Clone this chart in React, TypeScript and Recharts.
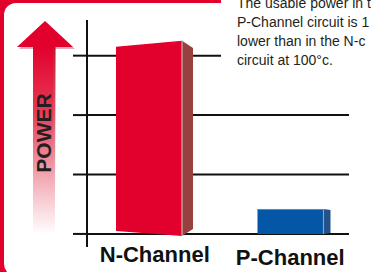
import { Bar, BarChart, CartesianGrid, XAxis, YAxis } from 'recharts'

const CATEGORIES = ['N-Channel', 'P-Channel']
const POWER = [3.2, 0.42]
const POWER_TICKS = [0, 1, 2, 3]
const NOTE_LINES = ['The usable power in t', 'P-Channel circuit is 1', 'lower than in the N-c', 'circuit at 100°c.']

const data = CATEGORIES.map((name, i) => ({ name, power: POWER[i] }))

const RED = '#e2002d'
const FONT = '"Liberation Sans", Arial, sans-serif'

// front / side colours and perspective tweaks for each box
const FRONT = ['#e2002d', '#0456a6']
const SIDE = ['#98403f', '#23528a']
const EDGE = ['#c9b3b3', '#8aa0bf']
const DEPTH = [11, 7]
const SKEW = [3, 0]

/** Bar drawn as a slightly skewed 3D box. */
function Box(props: any) {
  const { x, y, width, height, index } = props
  if (height == null || height <= 0) return null
  const d = DEPTH[index]
  const fw = width - 11
  const s = SKEW[index]
  const base = y + height
  const tl = y + s
  const tr = y - s
  const bl = base - s
  const br = base + s * 0.7
  const slant = index === 0 ? 0.65 : 0.15
  const front = `${x},${tl} ${x + fw},${tr} ${x + fw},${br} ${x},${bl}`
  const side = `${x + fw},${tr} ${x + fw + d},${tr + d * slant} ${x + fw + d},${br - d * slant} ${x + fw},${br}`
  return (
    <g>
      <polygon points={side} fill={SIDE[index]} />
      <polygon points={front} fill={FRONT[index]} />
      {index === 1 && <line x1={x} y1={tl + 0.5} x2={x + fw} y2={tr + 0.5} stroke="#5b8ccc" strokeWidth={1} />}
      <line x1={x + fw} y1={tr} x2={x + fw} y2={br} stroke={EDGE[index]} strokeWidth={1.2} />
    </g>
  )
}

function CategoryTick(props: any) {
  const { x, y, payload, index } = props
  const dx = [0, -6][index] ?? 0
  const dy = [15, 18][index] ?? 15
  return (
    <text x={x + dx} y={y + dy} textAnchor="middle" fontFamily={FONT} fontWeight="bold" fontSize={22} fill="#111">
      {payload.value}
    </text>
  )
}

export default function App() {
  return (
    <div style={{ position: 'fixed', left: 0, top: 0, width: 371, height: 272, overflow: 'hidden', background: '#fff' }}>
      {/* red frame behind the white panel */}
      <svg width={371} height={272} style={{ position: 'absolute', left: 0, top: 0 }}>
        <rect x={0} y={0} width={222} height={272} fill={RED} />
        <rect x={4} y={3} width={420} height={273} rx={12} fill="#fff" />
      </svg>

      <div style={{ position: 'absolute', left: 0, top: 0 }}>
        <BarChart width={371} height={272} data={data} margin={{ top: 20, right: 22, bottom: 0, left: 0 }} barSize={77}>
          <CartesianGrid vertical={false} horizontalValues={POWER_TICKS} stroke="#111" strokeWidth={2} />
          <XAxis
            dataKey="name"
            axisLine={false}
            tickLine={false}
            tickSize={0}
            tickMargin={0}
            height={25}
            padding={{ left: -3, right: -18 }}
            tick={<CategoryTick />}
            interval={0}
          />
          <YAxis
            width={87}
            domain={[-0.22, 3.6]}
            ticks={POWER_TICKS}
            allowDataOverflow
            axisLine={{ stroke: '#111', strokeWidth: 2 }}
            tickLine={{ stroke: '#111', strokeWidth: 2 }}
            tickSize={14}
            tickFormatter={() => ''}
          />
          <Bar dataKey="power" shape={<Box />} isAnimationActive={false} />
        </BarChart>
      </div>

      {/* arrow, axis title and the note in the corner */}
      <svg width={371} height={272} style={{ position: 'absolute', left: 0, top: 0, pointerEvents: 'none' }}>
        <defs>
          <linearGradient id="shaft" x1="0" y1="0" x2="0" y2="1">
            <stop offset="0%" stopColor={RED} />
            <stop offset="35%" stopColor="#e63a55" />
            <stop offset="70%" stopColor="#f2a9b4" />
            <stop offset="100%" stopColor="#ffffff" />
          </linearGradient>
          <linearGradient id="shaftShade" x1="0" y1="0" x2="0" y2="1">
            <stop offset="0%" stopColor="#9c2a3e" stopOpacity={0.6} />
            <stop offset="100%" stopColor="#ffffff" stopOpacity={0} />
          </linearGradient>
        </defs>
        <polygon points="47,23 75,49 19,49" fill="#b04a5c" opacity={0.45} />
        <rect x={33} y={46} width={22} height={188} fill="url(#shaft)" />
        <rect x={53} y={46} width={3} height={170} fill="url(#shaftShade)" />
        <polygon points="45,21 73,47 17,47" fill={RED} />
        <text
          x={51}
          y={133}
          transform="rotate(-90 51 133)"
          textAnchor="middle"
          fontFamily={FONT}
          fontWeight="bold"
          fontSize={21}
          fill="#231f20"
        >
          POWER
        </text>

        <rect x={221} y={0} width={150} height={70} fill="#fff" />
        {NOTE_LINES.map((line, i) => (
          <text key={i} x={237} y={8 + i * 19} fontFamily={FONT} fontSize={14} fill="#231f20">
            {line}
          </text>
        ))}
      </svg>
    </div>
  )
}
